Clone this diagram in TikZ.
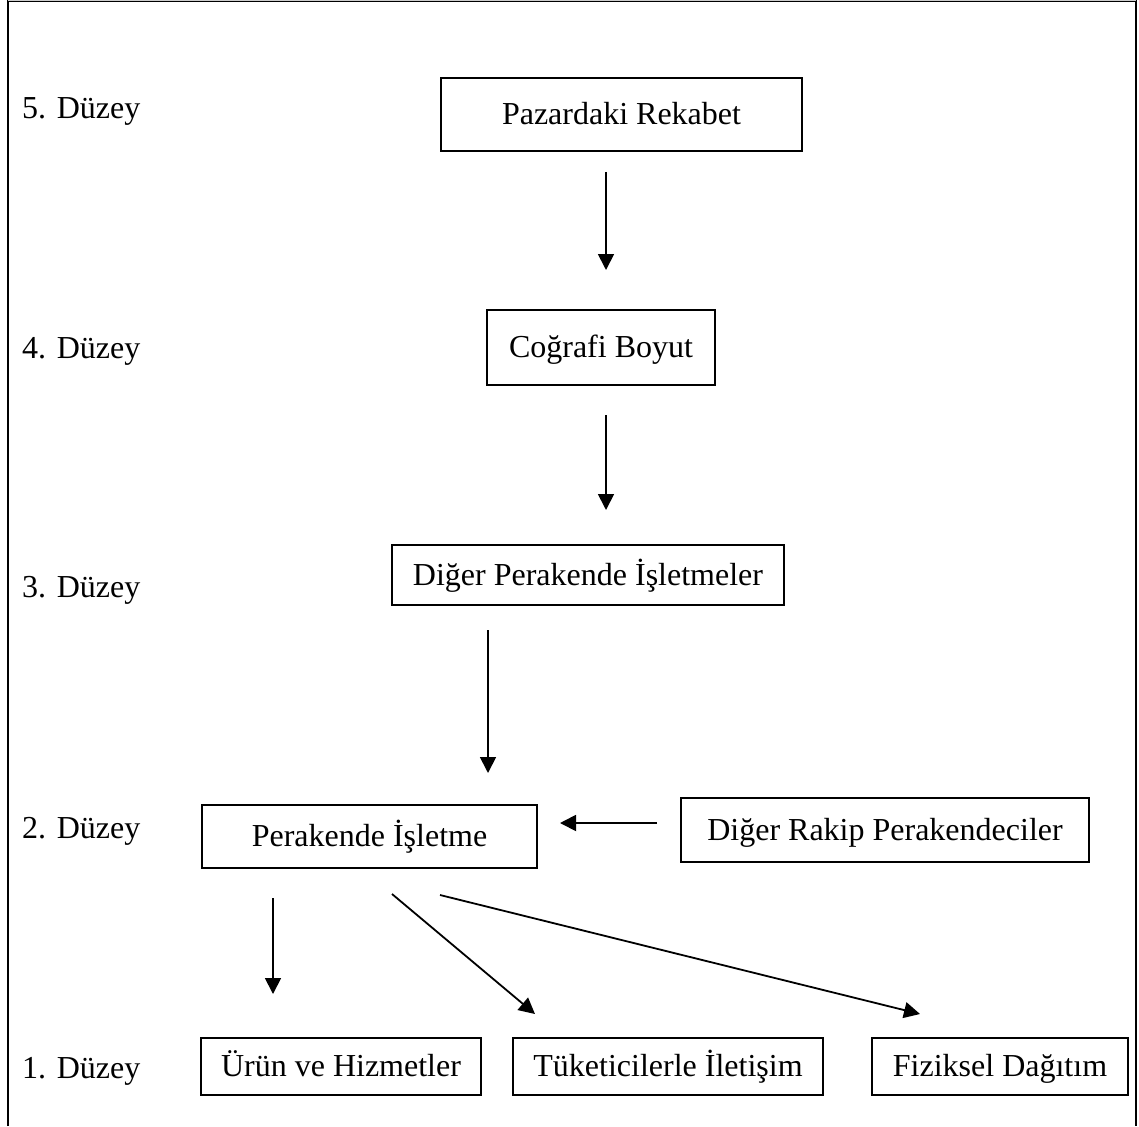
\documentclass[tikz,border=0pt]{standalone}
\usepackage{fontspec}
\setmainfont{Liberation Serif}
\usetikzlibrary{arrows.meta}
\begin{document}
\begin{tikzpicture}[x=1pt,y=-1pt,
  every node/.style={font=\fontsize{32}{38}\selectfont},
  box/.style={draw,line width=1.8pt,inner sep=0pt,align=center,text height=25pt,text depth=5pt},
  lvl/.style={anchor=west,inner sep=0pt,text height=22pt,text depth=7pt},
  arr/.style={line width=1.8pt,-{Triangle[length=16pt,width=16pt]}}]
\useasboundingbox (0,0) rectangle (1139,1126);
% frame
\draw[line width=2pt] (8,1126) -- (8,1) -- (1136,1) -- (1136,1126);
\draw[gray!40,line width=1pt] (8,0.5) -- (1136,0.5);
% level labels
\node[lvl] (l5) at (22,111) {5. Düzey};
\node[lvl] (l4) at (22,351) {4. Düzey};
\node[lvl] (l3) at (22,590) {3. Düzey};
\node[lvl] (l2) at (22,831) {2. Düzey};
\node[lvl] (l1) at (22,1071) {1. Düzey};
% boxes
\node[box,minimum width=361pt,minimum height=73pt] (n5) at (621.5,114.5) {Pazardaki Rekabet};
\node[box,minimum width=228pt,minimum height=75pt] (n4) at (601,347.5) {Coğrafi Boyut};
\node[box,minimum width=392pt,minimum height=60pt] (n3) at (588,575) {Diğer Perakende İşletmeler};
\node[box,minimum width=335pt,minimum height=63pt] (n2) at (369.5,836.5) {Perakende İşletme};
\node[box,minimum width=408pt,minimum height=64pt] (rv) at (885,830) {Diğer Rakip Perakendeciler};
\node[box,minimum width=280pt,minimum height=57pt] (b1) at (341,1066.5) {Ürün ve Hizmetler};
\node[box,minimum width=310pt,minimum height=57pt] (b2) at (668,1066.5) {Tüketicilerle İletişim};
\node[box,minimum width=256pt,minimum height=57pt] (b3) at (1000,1066.5) {Fiziksel Dağıtım};
% arrow endpoints
\coordinate (a1s) at (606,172); \coordinate (a1e) at (606,270);
\coordinate (a2s) at (606,415); \coordinate (a2e) at (606,510);
\coordinate (a3s) at (488,630); \coordinate (a3e) at (488,773);
\coordinate (hs) at (657,823); \coordinate (he) at (560,823);
\coordinate (das) at (273,898); \coordinate (dae) at (273,994);
\coordinate (dbs) at (392,894); \coordinate (dbe) at (535,1014);
\coordinate (dcs) at (440,895); \coordinate (dce) at (920,1014);
\draw[arr] (a1s) -- (a1e);
\draw[arr] (a2s) -- (a2e);
\draw[arr] (a3s) -- (a3e);
\draw[arr] (hs) -- (he);
\draw[arr] (das) -- (dae);
\draw[arr] (dbs) -- (dbe);
\draw[arr] (dcs) -- (dce);
\end{tikzpicture}
\end{document}
